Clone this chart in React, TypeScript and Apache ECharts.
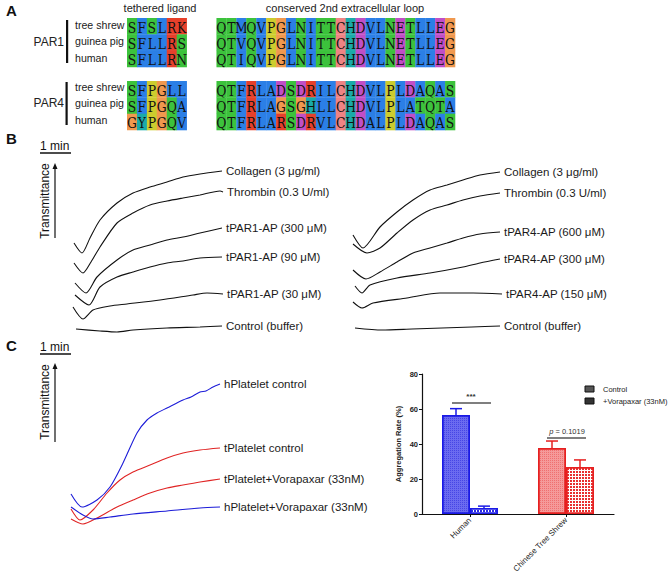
import React, { useEffect, useRef } from "react";
import * as echarts from "echarts";

// ---------- Panel A: alignment ----------
const speciesNames = ["tree shrew", "guinea pig", "human"];
const par1Ligand = ["SFSLRK", "SFLLRS", "SFLLRN"];
const par1Loop = ["QTMQVPGLNITTCHDVLNETLLEG", "QTVQVPGLNITTCHDVLNETLLEG", "QTIQVPGLNITTCHDVLNETLLEG"];
const par4Ligand = ["SFPGLL", "SFPGQA", "GYPGQV"];
const par4Loop = ["QTFRLADSDRILCHDVLPLDAQAS", "QTFRLAGSGHLLCHDVLPLATQTA", "QTFRLARSDRVLCHDALPLDAQAS"];
const par1Rows = [0, 1, 2];
const par4Rows = [3.86, 4.86, 5.86];
const ligandStartCol = 0;
const loopStartCol = 9;

// ---------- Panel B: traces [time s, transmittance a.u.] ----------
const bLeftNames = ["Collagen (3 μg/ml)", "Thrombin (0.3 U/ml)", "tPAR1-AP (300 μM)", "tPAR1-AP (90 μM)", "tPAR1-AP (30 μM)", "Control (buffer)"];
const bLeftCollagen = [[2, 97], [18, 87], [34, 102], [54, 120], [88, 137], [120, 147], [154, 153], [188, 158], [220, 163], [254, 166], [298, 169]];
const bLeftThrombin = [[2, 77], [20, 67], [36, 78], [54, 93], [88, 117], [120, 127], [154, 135], [188, 139], [220, 142], [254, 145], [294, 149], [300, 148]];
const bLeftPar1_300 = [[4, 57], [26, 47], [48, 63], [88, 80], [120, 90], [154, 95], [188, 100], [220, 103], [254, 107], [298, 112]];
const bLeftPar1_90 = [[4, 45], [32, 35], [54, 53], [88, 63], [120, 68], [154, 73], [188, 77], [220, 79], [254, 82], [298, 83]];
const bLeftPar1_30 = [[0, 33], [20, 21], [40, 30], [74, 34], [108, 36], [174, 40], [240, 45], [268, 47], [300, 46]];
const bLeftControl = [[6, 11], [54, 9], [88, 8], [120, 10], [188, 12], [254, 13], [298, 14]];

const bRightNames = ["Collagen (3 μg/ml)", "Thrombin (0.3 U/ml)", "tPAR4-AP (600 μM)", "tPAR4-AP (300 μM)", "tPAR4-AP (150 μM)", "Control (buffer)"];
const bRightCollagen = [[2, 105], [22, 92], [56, 113], [90, 128], [122, 140], [156, 150], [190, 155], [222, 160], [256, 165], [296, 168]];
const bRightThrombin = [[2, 96], [30, 87], [56, 92], [90, 107], [122, 120], [156, 130], [190, 135], [222, 140], [256, 144], [296, 147]];
const bRightPar4_600 = [[2, 70], [28, 61], [56, 68], [90, 78], [122, 87], [156, 92], [190, 97], [222, 102], [256, 106], [296, 108]];
const bRightPar4_300 = [[6, 54], [20, 47], [36, 55], [90, 62], [156, 67], [222, 73], [256, 77], [296, 81]];
const bRightPar4_150 = [[2, 38], [20, 32], [42, 37], [110, 42], [176, 47], [242, 47], [300, 46]];
const bRightControl = [[6, 12], [60, 10], [120, 11], [180, 12], [240, 13], [296, 14]];

// ---------- Panel C: traces ----------
const cNames = ["hPlatelet control", "tPlatelet control", "tPlatelet+Vorapaxar (33nM)", "hPlatelet+Vorapaxar (33nM)"];
const cHControl = [[0, 36], [22, 23], [52, 30], [78, 43], [104, 67], [132, 97], [152, 110], [172, 117], [192, 122], [224, 130], [240, 133], [258, 138], [270, 139], [284, 143], [298, 146]];
const cTControl = [[0, 21], [18, 10], [44, 20], [72, 37], [98, 50], [124, 58], [158, 65], [192, 72], [224, 77], [258, 80], [298, 82]];
const cTVora = [[0, 11], [24, 6], [52, 12], [92, 23], [124, 30], [158, 37], [192, 42], [224, 45], [258, 48], [298, 51]];
const cHVora = [[0, 23], [24, 15], [44, 11], [78, 13], [124, 16], [192, 19], [258, 22], [298, 23]];

// ---------- Panel C: bar chart ----------
const barCategories = ["Human", "Chinese Tree Shrew"];
const controlMeans = [56.6, 37.7];
const controlErr = [60.2, 41.7];
const voraMeans = [3.4, 26.9];
const voraErr = [4.5, 30.9];

const RES_COLORS: Record<string, string> = {
  S: "#3cc23c", T: "#3cc23c", N: "#3cc23c", Q: "#3cc23c",
  A: "#2b7fe6", I: "#2b7fe6", L: "#2b7fe6", M: "#2b7fe6", F: "#2b7fe6", V: "#2b7fe6", W: "#2b7fe6",
  K: "#e6402b", R: "#e6402b",
  D: "#c04ec6", E: "#c04ec6",
  G: "#f0984e",
  P: "#cccc2e",
  C: "#ef8383",
  H: "#1aaaa8", Y: "#1aaaa8",
};

function buildAlignment() {
  const out: any[] = [];
  const add = (seqs: string[], rows: number[], startCol: number) => {
    seqs.forEach((s, r) => {
      s.split("").forEach((ch, i) => out.push([startCol + i, rows[r], ch]));
    });
  };
  add(par1Ligand, par1Rows, ligandStartCol);
  add(par1Loop, par1Rows, loopStartCol);
  add(par4Ligand, par4Rows, ligandStartCol);
  add(par4Loop, par4Rows, loopStartCol);
  return out;
}

const FONT = "Liberation Sans, Arial, sans-serif";

export default function App() {
  const ref = useRef<HTMLDivElement>(null);
  useEffect(() => {
    if (!ref.current) return;
    const chart = echarts.init(ref.current, undefined, { renderer: "svg" });

    const traceLine = (name: string, data: number[][], gi: number, color = "#111") => ({
      type: "line",
      name,
      xAxisIndex: gi,
      yAxisIndex: gi,
      data,
      symbol: "none",
      smooth: 0.25,
      silent: true,
      lineStyle: { width: 1.1, color },
      endLabel: { show: true, formatter: "{a}", color: "#1a1a1a", fontSize: 11.5, fontFamily: FONT, distance: 4 },
    });

    const alignData = buildAlignment();

    const errData: any[] = [];
    barCategories.forEach((_, i) => {
      errData.push([i, controlMeans[i], controlErr[i], -1]);
      errData.push([i, voraMeans[i], voraErr[i], 1]);
    });
    const barEdge = ["#1a1ae6", "#e62020"];

    const hiddenX = (gi: number, min: number, max: number) => ({ type: "value", gridIndex: gi, min, max, show: false });
    const hiddenY = (gi: number, min: number, max: number, inverse = false) => ({ type: "value", gridIndex: gi, min, max, show: false, inverse });

    const scaleBar = (y: number) => [
      { type: "text", left: 40, top: y - 13, style: { text: "1 min", font: `12px ${FONT}`, fill: "#111" } },
      { type: "line", shape: { x1: 40, y1: y, x2: 71, y2: y }, style: { stroke: "#111", lineWidth: 1.5 } },
    ];
    const arrow = (yTop: number, yBot: number, yText: number) => [
      { type: "line", shape: { x1: 55, y1: yTop + 4, x2: 55, y2: yBot }, style: { stroke: "#111", lineWidth: 1.2 } },
      { type: "polygon", shape: { points: [[55, yTop], [52.5, yTop + 6], [57.5, yTop + 6]] }, style: { fill: "#111" } },
      { type: "text", x: 45, y: yText, rotation: Math.PI / 2, style: { text: "Transmittance", font: `12px ${FONT}`, fill: "#111", align: "center", verticalAlign: "middle" } },
    ];

    const option: any = {
      animation: false,
      backgroundColor: "#fff",
      grid: [
        { left: 127, top: 18, width: 328, height: 112 }, // 0 alignment
        { left: 73, top: 160, width: 150, height: 180 }, // 1 B left
        { left: 352, top: 160, width: 150, height: 180 }, // 2 B right
        { left: 71, top: 370, width: 150, height: 160 }, // 3 C traces
        { left: 422, top: 374, width: 192, height: 140 }, // 4 bar chart
      ],
      xAxis: [
        hiddenX(0, -0.5, 32.5),
        hiddenX(1, 0, 300),
        hiddenX(2, 0, 300),
        hiddenX(3, 0, 300),
        {
          type: "category", gridIndex: 4, data: barCategories,
          axisLine: { lineStyle: { color: "#111", width: 1.2 } },
          axisTick: { show: true, alignWithLabel: true, length: 3, lineStyle: { color: "#111" } },
          axisLabel: { rotate: 45, fontSize: 8, color: "#222", fontFamily: FONT, margin: 5 },
        },
      ],
      yAxis: [
        hiddenY(0, -0.5, 6.36, true),
        hiddenY(1, 0, 180),
        hiddenY(2, 0, 180),
        hiddenY(3, 0, 160),
        {
          type: "value", gridIndex: 4, min: 0, max: 80, interval: 20,
          name: "Aggregation Rate (%)", nameLocation: "middle", nameGap: 20,
          nameTextStyle: { fontSize: 7.5, fontWeight: "bold", color: "#222", fontFamily: FONT },
          axisLine: { show: true, lineStyle: { color: "#111", width: 1.2 } },
          axisTick: { show: true, length: 3, lineStyle: { color: "#111" } },
          splitLine: { show: false },
          axisLabel: { fontSize: 7.5, fontWeight: "bold", color: "#222", fontFamily: FONT, margin: 4 },
        },
      ],
      series: [
        {
          type: "custom",
          xAxisIndex: 0,
          yAxisIndex: 0,
          data: alignData,
          silent: true,
          renderItem: (params: any, api: any) => {
            const col = api.value(0);
            const row = api.value(1);
            const ch = alignData[params.dataIndex][2];
            const p0 = api.coord([col - 0.5, row - 0.5]);
            const p1 = api.coord([col + 0.5, row + 0.5]);
            const c = api.coord([col, row]);
            return {
              type: "group",
              children: [
                { type: "rect", shape: { x: p0[0], y: p0[1], width: p1[0] - p0[0] + 0.3, height: p1[1] - p0[1] + 0.3 }, style: { fill: RES_COLORS[ch] || "#ccc" } },
                {
                  type: "text", x: c[0], y: c[1] + 1, scaleX: 0.8, scaleY: 1,
                  style: { text: ch, x: 0, y: 0, align: "center", verticalAlign: "middle", fill: "#111", fontSize: 15.5, fontFamily: "DejaVu Serif, Liberation Serif, serif" },
                },
              ],
            };
          },
        },
        traceLine(bLeftNames[0], bLeftCollagen, 1),
        traceLine(bLeftNames[1], bLeftThrombin, 1),
        traceLine(bLeftNames[2], bLeftPar1_300, 1),
        traceLine(bLeftNames[3], bLeftPar1_90, 1),
        traceLine(bLeftNames[4], bLeftPar1_30, 1),
        traceLine(bLeftNames[5], bLeftControl, 1),
        traceLine(bRightNames[0], bRightCollagen, 2),
        traceLine(bRightNames[1], bRightThrombin, 2),
        traceLine(bRightNames[2], bRightPar4_600, 2),
        traceLine(bRightNames[3], bRightPar4_300, 2),
        traceLine(bRightNames[4], bRightPar4_150, 2),
        traceLine(bRightNames[5], bRightControl, 2),
        traceLine(cNames[0], cHControl, 3, "#1c1cd8"),
        traceLine(cNames[1], cTControl, 3, "#e02424"),
        traceLine(cNames[2], cTVora, 3, "#e02424"),
        traceLine(cNames[3], cHVora, 3, "#1c1cd8"),
        {
          type: "bar", name: "Control", xAxisIndex: 4, yAxisIndex: 4,
          barWidth: 28, barGap: "0%",
          data: controlMeans.map((v, i) => ({
            value: v,
            itemStyle: {
              color: i === 0 ? "#6b6bf0" : "#f59a9a",
              borderColor: barEdge[i], borderWidth: 1.5,
              decal: { symbol: "rect", symbolSize: 1, dashArrayX: [1, 1], dashArrayY: [1, 1], color: i === 0 ? "rgba(40,40,220,0.55)" : "rgba(230,60,60,0.45)" },
            },
          })),
        },
        {
          type: "bar", name: "+Vorapaxar (33nM)", xAxisIndex: 4, yAxisIndex: 4,
          barWidth: 28, barGap: "0%",
          data: voraMeans.map((v, i) => ({
            value: v,
            itemStyle: {
              color: "#ffffff",
              borderColor: barEdge[i], borderWidth: 1.5,
              decal: { symbol: "rect", symbolSize: 1, dashArrayX: [2, 1], dashArrayY: [2, 1], color: i === 0 ? "#2a2ae6" : "#e83030" },
            },
          })),
        },
        {
          type: "custom", xAxisIndex: 4, yAxisIndex: 4, data: errData, silent: true, z: 3,
          renderItem: (params: any, api: any) => {
            const cat = api.value(0);
            const side = api.value(3);
            const base = api.coord([cat, api.value(1)]);
            const top = api.coord([cat, api.value(2)]);
            const x = base[0] + side * 14;
            const stroke = barEdge[cat];
            return {
              type: "group",
              children: [
                { type: "line", shape: { x1: x, y1: base[1], x2: x, y2: top[1] }, style: { stroke, lineWidth: 1.5 } },
                { type: "line", shape: { x1: x - 6, y1: top[1], x2: x + 6, y2: top[1] }, style: { stroke, lineWidth: 1.5 } },
              ],
            };
          },
        },
      ],
      graphic: [
        // panel letters
        { type: "text", left: 6, top: 3, style: { text: "A", font: `bold 15px ${FONT}`, fill: "#111" } },
        { type: "text", left: 6, top: 131, style: { text: "B", font: `bold 15px ${FONT}`, fill: "#111" } },
        { type: "text", left: 6, top: 338, style: { text: "C", font: `bold 15px ${FONT}`, fill: "#111" } },
        // panel A headers and labels
        { type: "text", x: 160, y: 8, style: { text: "tethered ligand", font: `11px ${FONT}`, fill: "#222", align: "center", verticalAlign: "middle" } },
        { type: "text", x: 345, y: 8, style: { text: "conserved 2nd extracellular loop", font: `11px ${FONT}`, fill: "#222", align: "center", verticalAlign: "middle" } },
        { type: "text", x: 64, y: 42, style: { text: "PAR1", font: `12px ${FONT}`, fill: "#222", align: "right", verticalAlign: "middle" } },
        { type: "text", x: 64, y: 103, style: { text: "PAR4", font: `12px ${FONT}`, fill: "#222", align: "right", verticalAlign: "middle" } },
        { type: "rect", shape: { x: 66, y: 20, width: 2.2, height: 43 }, style: { fill: "#111" } },
        { type: "rect", shape: { x: 65.5, y: 82, width: 2.2, height: 43 }, style: { fill: "#111" } },
        ...speciesNames.map((s, i) => ({ type: "text", x: 75, y: 25 + i * 16.3, style: { text: s, font: `10.6px ${FONT}`, fill: "#222", verticalAlign: "middle" } })),
        ...speciesNames.map((s, i) => ({ type: "text", x: 75, y: 87 + i * 16.3, style: { text: s, font: `10.6px ${FONT}`, fill: "#222", verticalAlign: "middle" } })),
        // panel B / C scale bars and arrows
        ...scaleBar(153),
        ...arrow(163, 238, 201),
        ...scaleBar(354),
        ...arrow(363, 442, 402),
        // significance
        { type: "line", shape: { x1: 452, y1: 403, x2: 491, y2: 403 }, style: { stroke: "#555", lineWidth: 1.3 } },
        { type: "text", x: 471, y: 400, style: { text: "***", font: `bold 8px ${FONT}`, fill: "#333", align: "center", verticalAlign: "bottom" } },
        { type: "line", shape: { x1: 547, y1: 438, x2: 586, y2: 438 }, style: { stroke: "#555", lineWidth: 1.3 } },
        {
          type: "text", x: 567, y: 435,
          style: {
            text: "{i|p} = 0.1019", font: `7.5px ${FONT}`, fill: "#333", align: "center", verticalAlign: "bottom",
            rich: { i: { fontStyle: "italic", fontSize: 7.5, fontFamily: FONT, fill: "#333" } },
          },
        },
        // legend
        { type: "rect", shape: { x: 585, y: 386, width: 9, height: 6 }, style: { fill: "#555", stroke: "#111", lineWidth: 1 } },
        { type: "text", x: 603, y: 389, style: { text: "Control", font: `7.5px ${FONT}`, fill: "#222", verticalAlign: "middle" } },
        { type: "rect", shape: { x: 585, y: 398, width: 9, height: 6 }, style: { fill: "#333", stroke: "#111", lineWidth: 1 } },
        { type: "text", x: 603, y: 401, style: { text: "+Vorapaxar (33nM)", font: `7.5px ${FONT}`, fill: "#222", verticalAlign: "middle" } },
      ],
    };
    chart.setOption(option);
    return () => chart.dispose();
  }, []);
  return <div ref={ref} style={{ position: "fixed", left: 0, top: 0, width: 669, height: 581, background: "#fff" }} />;
}
